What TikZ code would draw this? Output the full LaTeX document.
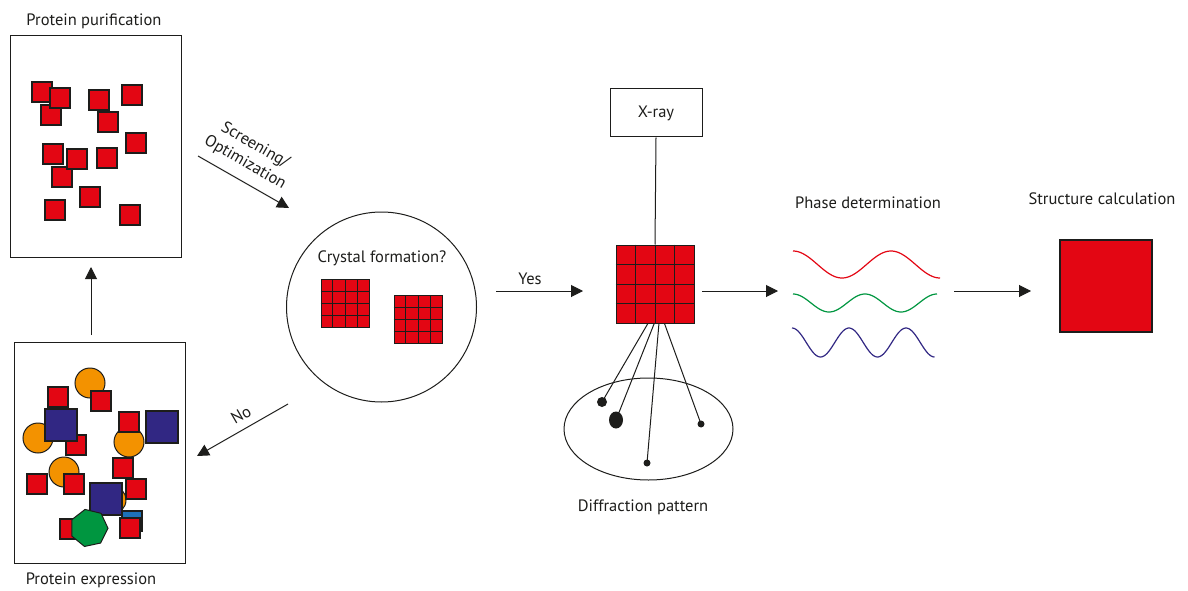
\documentclass[tikz,border=0pt]{standalone}
\usepackage{fontspec}
\setmainfont{PT Sans}
\usetikzlibrary{arrows.meta,shapes.geometric,calc}
\definecolor{ink}{HTML}{1D1D1B}
\definecolor{protred}{HTML}{E30613}
\definecolor{protorange}{HTML}{F39200}
\definecolor{protnavy}{HTML}{312783}
\definecolor{protgreen}{HTML}{009640}
\definecolor{protblue}{HTML}{1D71B8}
\tikzset{
  every node/.style={font=\fontsize{16.5}{20}\selectfont, text=ink},
  frame/.style={draw=ink, line width=1pt, inner sep=0pt},
  redsq/.style={draw=ink, fill=protred, line width=1.2pt, minimum size=20, inner sep=0pt},
  navysq/.style={redsq, fill=protnavy, minimum size=32},
  bluesq/.style={redsq, fill=protblue},
  blob/.style={circle, draw=ink, fill=protorange, line width=1pt, minimum size=30, inner sep=0pt},
  hepta/.style={regular polygon, regular polygon sides=7, draw=ink, fill=protgreen, line width=1pt, minimum size=38, inner sep=0pt},
  crystal/.style={draw=ink, fill=protred, line width=1pt, inner sep=0pt},
  arr/.style={-{Triangle[length=12pt,width=12pt]}, draw=ink, line width=1pt},
  ray/.style={draw=ink, line width=1pt},
  spot/.style={circle, fill=ink, inner sep=0pt},
  wave/.style={line width=1.2pt, smooth, samples=90},
}

\begin{document}
\begin{tikzpicture}[x=1pt, y=-1pt]
  \useasboundingbox (0,0) rectangle (1188,591);

  % --- protein purification ---------------------------------------------
  \node (purift) at (94,21) {Protein purification};
  \node[frame, anchor=north west, minimum width=171, minimum height=222] (purif) at (10,35) {};
  \foreach \x/\y [count=\n] in {51/115, 42/92, 60/98, 99/100, 132/95, 108/122, 136/143,
      53/154, 62/177, 77/159, 107/158, 90/197, 55/210, 130/215} {
    \node[redsq] (p\n) at (\x,\y) {};
  }

  % --- protein expression -----------------------------------------------
  \node[frame, anchor=north west, minimum width=171, minimum height=221] (expr) at (14,342) {};
  \node (exprt) at (91,580) {Protein expression};
  \node[blob] (o1) at (90,383) {};
  \node[blob] (o2) at (38,438) {};
  \node[blob] (o3) at (64,472) {};
  \node[blob, minimum size=28] (o4) at (112,500) {};
  \node[redsq] (e1) at (58,397) {};
  \node[redsq] (e2) at (101,401) {};
  \node[redsq] (e3) at (76,445) {};
  \node[navysq] (n1) at (61,425) {};
  \node[blob] (o5) at (129,442) {};
  \node[redsq] (e4) at (129,422) {};
  \node[navysq] (n2) at (162,427) {};
  \node[redsq] (e5) at (37,484) {};
  \node[redsq] (e6) at (74,484) {};
  \node[redsq] (e7) at (123,468) {};
  \node[redsq] (e8) at (136,489) {};
  \node[navysq] (n3) at (106,499) {};
  \node[bluesq] (b1) at (132,521) {};
  \node[redsq] (e9) at (130,528) {};
  \node[redsq] (e10) at (70,529) {};
  \node[hepta, rotate=12] (g1) at (89,528) {};

  \coordinate (up0) at (91,335);
  \coordinate (up1) at (91,267);
  \draw[arr] (up0) -- (up1);

  % --- crystallisation ----------------------------------------------------
  \node[circle, draw=ink, line width=1pt, minimum size=190] (trial) at (381.5,307) {};
  \node (trialt) at (382,258) {Crystal formation?};
  \node[crystal, minimum size=48] (cr1) at (345,303.5) {};
  \node[crystal, minimum size=48] (cr2) at (418,319.5) {};

  \coordinate (scr0) at (198,156);
  \coordinate (scr1) at (289,208);
  \draw[arr] (scr0) -- (scr1);
  \node[rotate=-30, align=center] (scrt) at (250,154) {Screening/\\Optimization};
  \coordinate (no0) at (288,404);
  \coordinate (no1) at (197,456);
  \draw[arr] (no0) -- (no1);
  \node[rotate=30] (not) at (241,415) {No};

  % --- diffraction --------------------------------------------------------
  \node[frame, minimum width=92, minimum height=48] (xray) at (656,113) {X-ray};
  \node[crystal, minimum size=78] (xtal) at (655,284) {};
  \draw[ray] (xray.south) -- (xtal.north);
  \coordinate (yes0) at (496,291);
  \coordinate (yes1) at (583,291);
  \draw[arr] (yes0) -- (yes1);
  \node (yest) at (530,279) {Yes};

  \node[ellipse, draw=ink, line width=1pt, minimum width=169, minimum height=102] (det) at (648.5,429) {};
  \node (dett) at (643,507) {Diffraction pattern};
  \node[spot, minimum size=10] (s1) at (602,402) {};
  \node[spot, ellipse, minimum width=14, minimum height=17] (s2) at (616,420) {};
  \node[spot, minimum size=7] (s3) at (647,463) {};
  \node[spot, minimum size=7] (s4) at (701,424) {};
  \foreach \f/\s in {0.41/s1, 0.49/s2, 0.55/s3, 0.62/s4} {
    \draw[ray] ($(xtal.south west)!\f!(xtal.south east)$) -- (\s.center);
  }

  % crystal lattice lines
  \foreach \c in {cr1, cr2, xtal} {
    \foreach \k in {1,2,3} {
      \draw[ray] ($(\c.north west)!\k/4!(\c.north east)$) -- ($(\c.south west)!\k/4!(\c.south east)$);
      \draw[ray] ($(\c.north west)!\k/4!(\c.south west)$) -- ($(\c.north east)!\k/4!(\c.south east)$);
    }
  }

  % --- phases and structure -----------------------------------------------
  \coordinate (ph0) at (702,291);
  \coordinate (ph1) at (778,291);
  \draw[arr] (ph0) -- (ph1);
  \node (pht) at (868,203) {Phase determination};
  \draw[wave, protred,   domain=793:940] plot (\x, {264.5-13.5*cos((\x-793)/98*360)});
  \draw[wave, protgreen, domain=793:937] plot (\x, {303-9*cos((\x-793)/72*360)});
  \draw[wave, protnavy,  domain=792:934.5] plot (\x, {342.5-14.5*cos((\x-792)/57*360)});

  \coordinate (st0) at (954,291);
  \coordinate (st1) at (1031,291);
  \draw[arr] (st0) -- (st1);
  \node (stt) at (1102,199) {Structure calculation};
  \node[redsq, minimum size=92] (model) at (1106,286) {};
\end{tikzpicture}
\end{document}
